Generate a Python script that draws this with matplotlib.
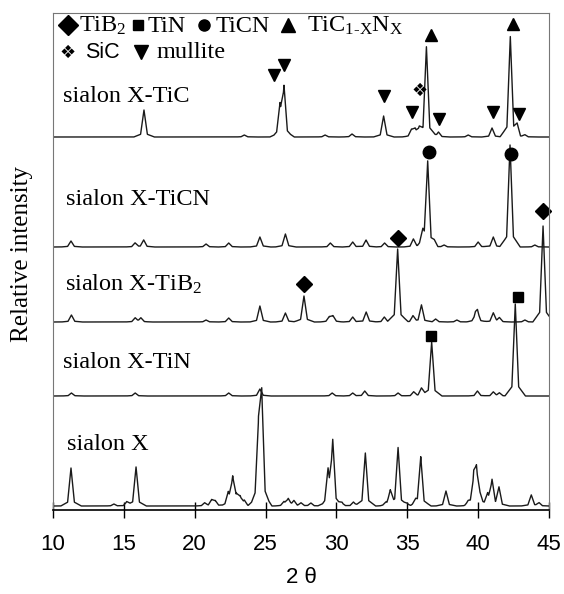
import numpy as np
import matplotlib.pyplot as plt

plt.rcParams['mathtext.fontset'] = 'custom'
plt.rcParams['mathtext.rm'] = 'Liberation Serif'
plt.rcParams['mathtext.it'] = 'Liberation Serif:italic'

# peak positions (2 theta) and heights
x_pos = [11.27, 14.3, 15.2, 15.86, 20.7, 21.2, 21.45, 22.37, 22.68, 22.95, 23.2, 23.5,
         24.5, 24.73, 26.3, 26.6, 27.0, 27.5, 28.2, 29.41, 29.74, 30.4, 31.2, 32.04,
         33.5, 33.8, 34.35, 35.0, 35.6, 35.95, 37.73, 39.3, 39.69, 39.88, 40.1, 40.67,
         40.98, 41.47, 43.75, 44.3]
x_h = [38, 2, 4, 39, 3, 6, 5, 12, 28, 9, 8, 5,
       75, 108, 4, 7, 5, 3, 3, 33, 64, 3, 4, 53,
       3, 14, 58, 2, 4, 49, 15, 3, 26, 32, 10, 11,
       25, 18, 11, 3]

tin_pos = [11.3, 15.8, 22.4, 24.6, 29.7, 31.15, 32.0, 34.35, 35.45, 36.0, 36.72,
           39.95, 41.07, 41.5, 42.62]
tin_h = [3, 3, 3, 7, 3, 3, 5, 3, 4, 8, 54, 5, 4, 3, 92]

tib2_pos = [11.3, 15.8, 16.2, 20.8, 22.4, 24.6, 26.4, 27.71, 29.5, 29.75, 31.15, 32.1,
            33.38, 34.32, 35.4, 36.0, 37.0, 38.5, 39.8, 39.95, 41.07, 41.5, 43.3, 44.58]
tib2_h = [7, 4, 4, 2, 4, 16, 9, 26, 5, 6, 5, 10,
          5, 73, 6, 17, 3, 2, 6, 10, 9, 4, 2, 96]

ticn_pos = [11.27, 15.79, 16.4, 20.8, 22.4, 24.6, 26.4, 29.57, 31.15, 32.09, 33.4,
            35.43, 36.1, 36.44, 36.9, 37.6, 40.0, 41.07, 42.25, 44.0]
ticn_h = [6, 4, 7, 3, 4, 10, 13, 4, 5, 7, 4, 8, 12, 85, 3, 2, 5, 10, 102, 2]

tic_pos = [16.42, 23.5, 26.02, 26.3, 29.2, 31.1, 33.33, 35.3, 35.55, 35.85, 36.35,
           37.2, 39.3, 40.98, 42.27, 42.75, 43.3]
tic_h = [27, 2, 30, 49, 2, 3, 21, 7, 8, 6, 90, 5, 2, 9, 100, 9, 2]

names = ["sialon X", "sialon X-TiN", "sialon X-TiB$_2$", "sialon X-TiCN", "sialon X-TiC"]
offsets = [4, 114, 188, 263, 373]
label_y = [60, 142, 219, 305, 408]
label_x = [10.98, 10.7, 10.85, 10.9, 10.7]

# phase markers: (2 theta, level above trace baseline)
tic_mullite = [(25.62, 62), (26.3, 72), (33.33, 41), (35.3, 25), (37.26, 18),
               (41.03, 25), (42.86, 23)]
tic_tic = [(36.68, 102), (42.48, 113)]
tic_sic = [(35.85, 46)]
ticn_ticn = [(36.54, 95), (42.32, 93)]
tib2_tib2 = [(27.71, 38), (34.33, 84), (44.58, 111)]
tin_tin = [(36.65, 60), (42.84, 99)]

def pattern(x, pos, h, w=0.24):
    y = np.zeros_like(x)
    for p, hh in zip(pos, h):
        y += 0.85 * hh * np.interp(x, [p - w, p, p + w], [0, 1, 0])
        y += 0.15 * hh * np.interp(x, [p - 3 * w, p, p + 3 * w], [0, 1, 0])
    return y

fig = plt.figure(figsize=(5.64, 5.94), dpi=100)
ax = fig.add_axes([53 / 564, 1 - 510 / 594, 496 / 564, 497 / 594])

tt = np.linspace(10, 45, 3501)
series = [(x_pos, x_h), (tin_pos, tin_h), (tib2_pos, tib2_h), (ticn_pos, ticn_h), (tic_pos, tic_h)]
for (pos, h), off, name, lx, ly in zip(series, offsets, names, label_x, label_y):
    ax.plot(tt, pattern(tt, pos, h) + off, color='#1a1a1a', lw=1.0)
    ax.text(lx, ly, name, fontsize=17.5, family='Liberation Serif', va='baseline')

def mark(pts, off, marker, ms):
    ax.plot([p[0] for p in pts], [p[1] + off for p in pts], marker, color='black',
            ms=ms, ls='none', clip_on=False)

mark(tic_mullite, offsets[4], 'v', 9)
mark(tic_tic, offsets[4], '^', 9)
for p, lev in tic_sic:
    ax.text(p, lev + offsets[4], '❖', fontsize=13, family='DejaVu Sans', ha='center', va='center')
mark(ticn_ticn, offsets[3], 'o', 9)
mark(tib2_tib2, offsets[2], 'D', 8)
mark(tin_tin, offsets[1], 's', 7)

# legend written inside the plot
serif = dict(fontsize=17.5, family='Liberation Serif', va='center')
ax.plot([11.06], [485], 'D', color='black', ms=10, clip_on=False)
ax.text(11.8, 484, 'TiB$_2$', **serif)
ax.plot([16.0], [485], 's', color='black', ms=7)
ax.text(16.7, 484, 'TiN', **serif)
ax.plot([20.65], [485], 'o', color='black', ms=8)
ax.text(21.45, 484, 'TiCN', **serif)
ax.plot([26.6], [485], '^', color='black', ms=10)
ax.text(27.95, 484, r'TiC$_{\mathrm{1\text{-}X}}$N$_{\mathrm{X}}$', **serif)
ax.text(11.0, 457, '❖', fontsize=13, family='DejaVu Sans', ha='center', va='center')
ax.text(12.25, 457, 'SiC', fontsize=15.5, family='Liberation Sans', va='center')
ax.plot([16.2], [458], 'v', color='black', ms=10)
ax.text(17.3, 457, 'mullite', **serif)

ax.set_xlim(10, 45)
ax.set_ylim(0, 497)
ax.set_yticks([])
ax.set_xticks([10, 15, 20, 25, 30, 35, 40, 45])
ax.tick_params(axis='x', direction='inout', length=12, width=1, pad=11, labelsize=16)
for lab in ax.get_xticklabels():
    lab.set_family('Liberation Sans')
for s in ['top', 'right', 'left']:
    ax.spines[s].set_color('#777777')
ax.spines['bottom'].set_linewidth(1.2)
ax.set_xlabel('2 θ', fontsize=16, family='Liberation Sans', labelpad=9)
ax.set_ylabel('Relative intensity', fontsize=18, family='Liberation Serif')
ax.yaxis.set_label_coords(-0.04, 0.515)

fig.savefig('out.png', dpi=100)
